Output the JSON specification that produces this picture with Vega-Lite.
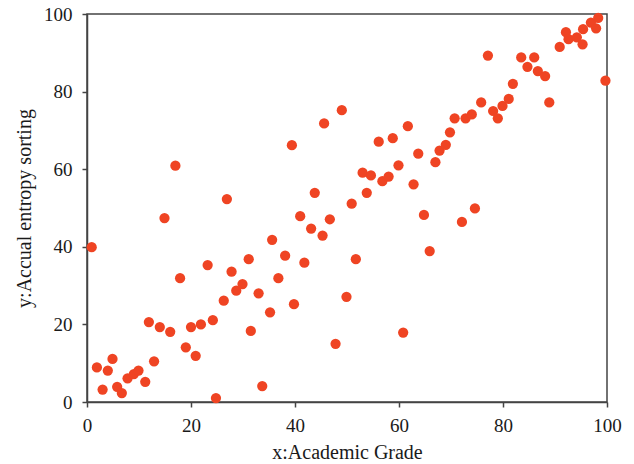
{
  "$schema": "https://vega.github.io/schema/vega-lite/v6.json",
  "autosize": {"type": "none"},
  "padding": {"left": 87, "top": 14, "right": 27, "bottom": 63},
  "width": 520,
  "height": 388,
  "background": "white",
  "config": {
    "font": "Liberation Serif",
    "view": {"stroke": "#444444", "strokeWidth": 1.5},
    "axis": {
      "grid": false,
      "domainColor": "#444444",
      "domainWidth": 1.5,
      "tickColor": "#444444",
      "tickWidth": 1.5,
      "tickSize": 5,
      "labelFont": "Liberation Serif",
      "labelFontSize": 19,
      "labelColor": "#1a1a1a",
      "labelPadding": 9,
      "titleFont": "Liberation Serif",
      "titleFontSize": 20,
      "titleFontWeight": "normal",
      "titleColor": "#1a1a1a"
    }
  },
  "data": {
    "values": [
      {"x": 0.9, "y": 39.9}, {"x": 1.9, "y": 8.9}, {"x": 3.0, "y": 3.2}, {"x": 4.0, "y": 8.1},
      {"x": 4.9, "y": 11.1}, {"x": 5.8, "y": 3.9}, {"x": 6.7, "y": 2.3}, {"x": 7.8, "y": 6.1},
      {"x": 9.0, "y": 7.2}, {"x": 9.9, "y": 8.1}, {"x": 11.2, "y": 5.2}, {"x": 11.9, "y": 20.6},
      {"x": 12.9, "y": 10.5}, {"x": 14.0, "y": 19.3}, {"x": 14.9, "y": 47.4}, {"x": 16.0, "y": 18.1},
      {"x": 17.0, "y": 60.9}, {"x": 17.9, "y": 31.9}, {"x": 19.0, "y": 14.1}, {"x": 20.0, "y": 19.3},
      {"x": 20.9, "y": 11.9}, {"x": 21.9, "y": 20.0}, {"x": 23.2, "y": 35.3}, {"x": 24.2, "y": 21.1},
      {"x": 24.8, "y": 1.0}, {"x": 26.3, "y": 26.1}, {"x": 26.9, "y": 52.3}, {"x": 27.8, "y": 33.6},
      {"x": 28.7, "y": 28.7}, {"x": 29.9, "y": 30.4}, {"x": 31.1, "y": 36.8}, {"x": 31.5, "y": 18.3},
      {"x": 33.0, "y": 28.0}, {"x": 33.7, "y": 4.1}, {"x": 35.2, "y": 23.1}, {"x": 35.6, "y": 41.8},
      {"x": 36.8, "y": 31.9}, {"x": 38.1, "y": 37.7}, {"x": 39.4, "y": 66.2}, {"x": 39.8, "y": 25.2},
      {"x": 41.0, "y": 47.9}, {"x": 41.8, "y": 35.9}, {"x": 43.1, "y": 44.7}, {"x": 43.8, "y": 53.9},
      {"x": 45.3, "y": 42.9}, {"x": 45.6, "y": 71.8}, {"x": 46.7, "y": 47.1}, {"x": 47.8, "y": 15.0},
      {"x": 49.0, "y": 75.2}, {"x": 49.9, "y": 27.1}, {"x": 50.9, "y": 51.1}, {"x": 51.7, "y": 36.8},
      {"x": 53.0, "y": 59.1}, {"x": 53.8, "y": 53.9}, {"x": 54.6, "y": 58.4}, {"x": 56.1, "y": 67.1},
      {"x": 56.8, "y": 56.9}, {"x": 58.0, "y": 58.1}, {"x": 58.8, "y": 68.0}, {"x": 59.9, "y": 61.0},
      {"x": 60.8, "y": 17.9}, {"x": 61.7, "y": 71.1}, {"x": 62.8, "y": 56.1}, {"x": 63.7, "y": 64.0},
      {"x": 64.8, "y": 48.2}, {"x": 65.9, "y": 38.9}, {"x": 67.0, "y": 61.8}, {"x": 67.8, "y": 64.8},
      {"x": 69.0, "y": 66.3}, {"x": 69.8, "y": 69.5}, {"x": 70.7, "y": 73.1}, {"x": 72.1, "y": 46.4},
      {"x": 72.8, "y": 73.1}, {"x": 74.0, "y": 74.1}, {"x": 74.6, "y": 49.9}, {"x": 75.8, "y": 77.2},
      {"x": 77.1, "y": 89.3}, {"x": 78.1, "y": 75.0}, {"x": 79.0, "y": 73.1}, {"x": 79.9, "y": 76.3},
      {"x": 81.1, "y": 78.1}, {"x": 81.9, "y": 82.0}, {"x": 83.5, "y": 88.8}, {"x": 84.7, "y": 86.4},
      {"x": 86.0, "y": 88.8}, {"x": 86.7, "y": 85.3}, {"x": 88.1, "y": 84.0}, {"x": 88.9, "y": 77.2},
      {"x": 90.9, "y": 91.5}, {"x": 92.1, "y": 95.3}, {"x": 92.6, "y": 93.5}, {"x": 94.2, "y": 94.0},
      {"x": 95.3, "y": 92.2}, {"x": 95.4, "y": 96.1}, {"x": 96.9, "y": 97.8}, {"x": 97.9, "y": 96.3},
      {"x": 98.3, "y": 99.0}, {"x": 99.7, "y": 82.8}
    ]
  },
  "mark": {"type": "circle", "size": 105, "opacity": 1, "color": "#EF4423", "clip": false},
  "encoding": {
    "x": {
      "field": "x", "type": "quantitative",
      "scale": {"domain": [0, 100], "nice": false, "zero": false},
      "axis": {"title": "x:Academic Grade", "values": [0, 20, 40, 60, 80, 100], "titlePadding": 7, "labelFlush": false}
    },
    "y": {
      "field": "y", "type": "quantitative",
      "scale": {"domain": [0, 100], "nice": false, "zero": false},
      "axis": {"title": "y:Accual entropy sorting", "values": [0, 20, 40, 60, 80, 100], "titlePadding": 9, "labelPadding": 10, "labelFlush": false}
    }
  }
}
